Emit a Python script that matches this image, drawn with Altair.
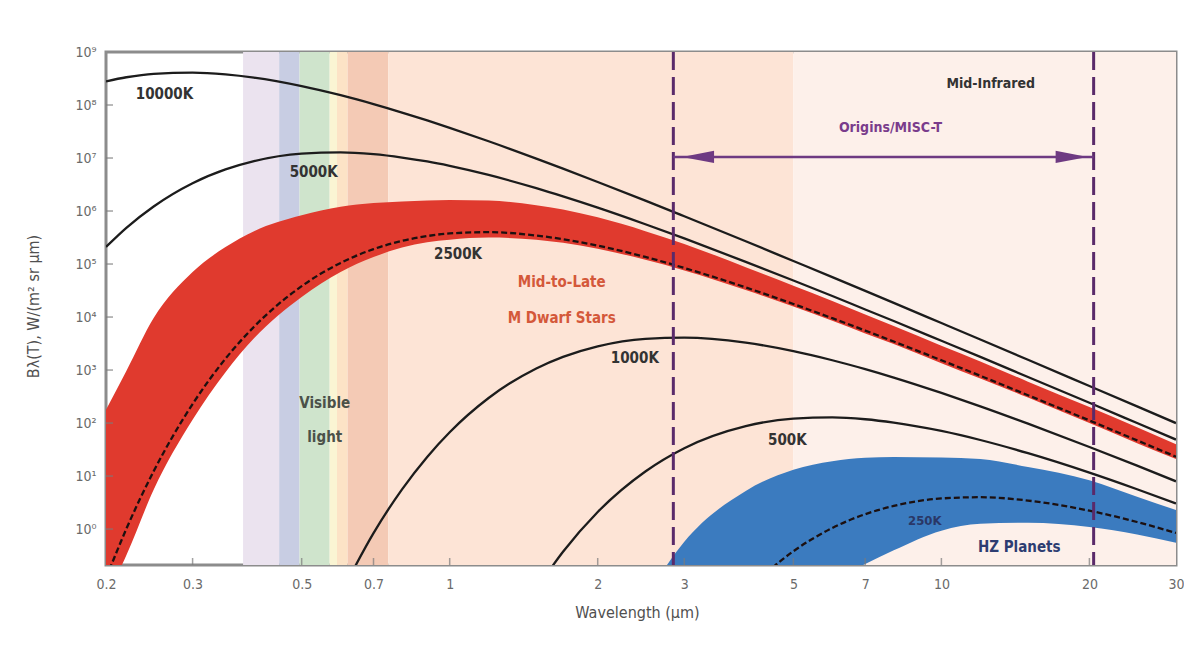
import altair as alt
import pandas as pd

# ---------------- data ----------------
wavelength = [0.2, 0.22, 0.25, 0.3, 0.35, 0.4, 0.5, 0.6, 0.7, 0.8, 0.9, 1.0, 1.2, 1.5, 1.7,
              2, 2.5, 3, 4, 5, 6, 7, 8, 10, 12, 15, 20, 25, 30]

b_10000K = [2.80e8, 3.34e8, 3.88e8, 4.08e8, 3.78e8, 3.28e8, 2.27e8, 1.53e8, 1.04e8, 7.21e7,
            5.11e7, 3.70e7, 2.07e7, 9.74e6, 6.30e6, 3.53e6, 1.57e6, 7.96e5, 2.69e5, 1.14e5,
            5.65e4, 3.11e4, 1.85e4, 7.70e3, 3.76e3, 1.56e3, 499, 206, 99.8]
b_5000K = [2.10e5, 4.82e5, 1.22e6, 3.35e6, 6.09e6, 8.74e6, 1.21e7, 1.28e7, 1.18e7, 1.02e7,
           8.60e6, 7.10e6, 4.79e6, 2.70e6, 1.89e6, 1.16e6, 5.64e5, 3.04e5, 1.10e5, 4.90e4,
           2.49e4, 1.39e4, 8.40e3, 3.57e3, 1.77e3, 741, 241, 100, 48.7]
b_2500K = [0.118, 1.01, 12.3, 228, 1.64e3, 6.56e3, 3.82e4, 1.05e5, 1.91e5, 2.73e5,
           3.37e5, 3.78e5, 3.99e5, 3.45e5, 2.94e5, 2.22e5, 1.36e5, 8.43e4, 3.62e4, 1.76e4,
           9.51e3, 5.56e3, 3.45e3, 1.53e3, 778, 335, 112, 47.1, 23.2]
b_1000K = [None, None, None, None, None, None, None, 0.059, 0.839, 5.62,
           23.0, 67.2, 297, 1.07e3, 1.77e3, 2.80e3, 3.88e3, 4.08e3, 3.28e3, 2.27e3,
           1.53e3, 1.04e3, 721, 370, 207, 97.4, 35.3, 15.7, 7.96]
b_500K = [None, None, None, None, None, None, None, None, None, None,
          None, None, None, 0.073, 0.373, 2.10, 12.2, 33.5, 87.4, 121,
          128, 118, 102, 71.0, 47.9, 27.0, 11.6, 5.64, 3.04]
b_250K = [None, None, None, None, None, None, None, None, None, None,
          None, None, None, None, None, None, None, None, 0.066, 0.382,
          1.05, 1.91, 2.73, 3.78, 3.99, 3.45, 2.22, 1.36, 0.843]

mdwarf_upper = [178, 955, 9.55e3, 7.08e4, 2.09e5, 4.17e5, 8.32e5, 1.20e6, 1.41e6, 1.51e6,
                1.58e6, 1.62e6, 1.58e6, 1.29e6, 1.07e6, 7.59e5, 4.17e5, 2.40e5, 8.71e4, 3.89e4,
                2.00e4, 1.12e4, 6.76e3, 2.88e3, 1.45e3, 603, 200, 83.2, 39.8]
mdwarf_lower = [0.05, 0.32, 5.5, 115, 912, 3.98e3, 2.40e4, 7.08e4, 1.35e5, 2.04e5,
                2.57e5, 2.88e5, 3.16e5, 2.88e5, 2.51e5, 1.95e5, 1.20e5, 7.59e4, 3.24e4, 1.58e4,
                8.51e3, 4.90e3, 3.09e3, 1.35e3, 692, 302, 100, 41.7, 20.9]

hz_wavelength = [2.5, 3, 4, 5, 6, 7, 8, 10, 12, 15, 20, 25, 30]
hz_upper = [0.05, 0.575, 5.25, 13.2, 19.1, 22.1, 22.9, 22.4, 20.9, 14.8, 8.32, 4.07, 2.29]
hz_lower = [0.001, 0.001, 0.003, 0.025, 0.11, 0.219, 0.398, 0.933, 1.26, 1.32, 1.10, 0.794, 0.55]

band_start = [0.38, 0.45, 0.495, 0.57, 0.59, 0.62, 0.75, 5]
band_end = [0.45, 0.495, 0.57, 0.59, 0.62, 0.75, 5, 30]
band_name = ["violet", "blue", "green", "yellow", "orange", "red", "near-IR", "mid-IR"]
band_color = ["#ebe3ef", "#c8cde3", "#cfe4cc", "#faf5d3", "#fce3c6", "#f4cab5", "#fde4d6", "#fdf0ea"]

misc_t_edges = [2.85, 20.4]
misc_t_level = 1.05e7
arrow_heads_lam = [3.2, 18.4]

x_ticks = [0.2, 0.3, 0.5, 0.7, 1, 2, 3, 5, 7, 10, 20, 30]
y_ticks = [1, 10, 100, 1e3, 1e4, 1e5, 1e6, 1e7, 1e8, 1e9]

ann_text = ["10000K", "5000K", "2500K", "1000K", "500K", "250K", "Mid-to-Late", "M Dwarf Stars",
            "Visible", "light", "HZ Planets", "Mid-Infrared", "Origins/MISC-T"]
ann_lam = [0.263, 0.529, 1.04, 2.38, 4.86, 9.25, 1.69, 1.69, 0.557, 0.557, 14.4, 12.6, 7.88]
ann_B = [1.6e8, 5.4e6, 1.55e5, 1.68e3, 47.7, 1.42, 4.57e4, 9.55e3, 238, 54.5, 0.457, 2.49e8, 3.68e7]
ann_color = ["#333333"] * 5 + ["#2a3766", "#d4583a", "#d4583a", "#4b5149", "#4b5149",
                               "#2d3d72", "#333333", "#7a3c8c"]
ann_size = [15, 15, 15, 15, 15, 13, 15, 15, 15, 15, 15, 14, 14]

# ---------------- tables ----------------
curves = [("10000K", b_10000K), ("5000K", b_5000K), ("2500K", b_2500K),
          ("1000K", b_1000K), ("500K", b_500K), ("250K", b_250K)]
rows = []
for name, vals in curves:
    for lam, v in zip(wavelength, vals):
        if v is not None:
            rows.append({"lam": lam, "B": v, "curve": name})
lines_df = pd.DataFrame(rows)
solid_df = lines_df[~lines_df["curve"].isin(["2500K", "250K"])]
dashed_df = lines_df[lines_df["curve"].isin(["2500K", "250K"])]

mdwarf_df = pd.DataFrame({"lam": wavelength, "B": mdwarf_upper, "B2": mdwarf_lower})
hz_df = pd.DataFrame({"lam": hz_wavelength, "B": hz_upper, "B2": hz_lower})
bands_df = pd.DataFrame({"lam": band_start, "lam_end": band_end, "name": band_name})
edges_df = pd.DataFrame({"lam": misc_t_edges})
arrow_df = pd.DataFrame({"lam": [misc_t_edges[0]], "lam_end": [misc_t_edges[1]], "B": [misc_t_level]})
heads_df = pd.DataFrame({"lam": arrow_heads_lam, "B": [misc_t_level] * 2,
                         "shp": ["M-1,0L1,-0.38L1,0.38Z", "M1,0L-1,-0.38L-1,0.38Z"]})
ann_df = pd.DataFrame({"lam": ann_lam, "B": ann_B, "txt": ann_text, "col": ann_color, "fs": ann_size})
xtick_df = pd.DataFrame({"lam": x_ticks[1:-1]})
ytick_df = pd.DataFrame({"B": y_ticks[:-1]})

# ---------------- encodings ----------------
W, H = 1070, 513
FONT = "DejaVu Sans Condensed"
xs = alt.Scale(type="log", domain=[0.2, 30], nice=False)
ys = alt.Scale(type="log", domain=[0.21, 1e9], nice=False)
sup = "['\u2070','\u00b9','\u00b2','\u00b3','\u2074','\u2075','\u2076','\u2077','\u2078','\u2079']"
xaxis = alt.Axis(values=x_ticks, format="~g", title="Wavelength (\u00b5m)", domain=False, ticks=False,
                 grid=False, labelFontSize=14, labelColor="#6a6a6a", labelPadding=12,
                 labelOverlap=False, labelFlush=False, titleFontSize=16, titleColor="#505050",
                 titleFontWeight="normal", titleX=531, titleY=47, titleBaseline="middle", zindex=1)
yaxis = alt.Axis(values=y_ticks, labelExpr="'10' + " + sup + "[round(log(datum.value)/LN10)]",
                 title="B\u03bb(T), W/(m\u00b2 sr \u00b5m)", domain=False, ticks=False, grid=False,
                 labelFontSize=14, labelColor="#6a6a6a", labelPadding=10, labelOverlap=False,
                 labelFlush=False, titleFontSize=16, titleColor="#505050", titleFontWeight="normal",
                 titleX=-73, titleY=254, titleAngle=270, titleAlign="center",
                 titleBaseline="middle", zindex=1)
X = alt.X("lam:Q", scale=xs, axis=xaxis)
Y = alt.Y("B:Q", scale=ys, axis=yaxis)

bands = alt.Chart(bands_df).mark_rect(clip=True).encode(
    x=X, x2="lam_end:Q", y=alt.value(0), y2=alt.value(H),
    color=alt.Color("name:N", scale=alt.Scale(domain=band_name, range=band_color), legend=None))

mdwarf = alt.Chart(mdwarf_df).mark_area(interpolate="monotone", clip=True, color="#e03a2e").encode(
    x=X, y=Y, y2="B2:Q")
hz = alt.Chart(hz_df).mark_area(interpolate="monotone", clip=True, color="#3b7bbf").encode(
    x=X, y=Y, y2="B2:Q")

solid = alt.Chart(solid_df).mark_line(interpolate="monotone", clip=True, strokeWidth=2.3,
                                      color="#1c1c1c").encode(x=X, y=Y, detail="curve:N")
dashed = alt.Chart(dashed_df).mark_line(interpolate="monotone", clip=True, strokeWidth=2.3,
                                        color="#1c1010", strokeDash=[6, 3]).encode(
    x=X, y=Y, detail="curve:N")

xticks = alt.Chart(xtick_df).mark_tick(color="#7a7a7a", thickness=1.5, size=7).encode(
    x=X, y=alt.value(H - 3.5))
yticks = alt.Chart(ytick_df).mark_tick(color="#7a7a7a", thickness=1.5, size=7).encode(
    y=Y, x=alt.value(3.5))

edges = alt.Chart(edges_df).mark_rule(color="#5a2a6a", strokeWidth=3, strokeDash=[18, 7]).encode(x=X)
arrow = alt.Chart(arrow_df).mark_rule(color="#6e3a82", strokeWidth=2.5).encode(
    x=X, x2="lam_end:Q", y=Y)
heads = alt.Chart(heads_df).mark_point(filled=True, opacity=1, size=1024, color="#6e3a82").encode(
    x=X, y=Y, shape=alt.Shape("shp:N", scale=None))

texts = alt.Chart(ann_df).mark_text(fontWeight="bold", align="center", baseline="middle",
                                    font=FONT).encode(
    x=X, y=Y, text="txt:N", color=alt.Color("col:N", scale=None),
    size=alt.Size("fs:Q", scale=None))

chart = alt.layer(bands, mdwarf, hz, solid, dashed, xticks, yticks, edges, arrow, heads,
                  texts).properties(
    width=W, height=H, autosize=alt.AutoSizeParams(type="none"),
    padding={"left": 98, "top": 44, "right": 8, "bottom": 70},
    background="white",
).configure(font=FONT).configure_view(stroke="#8c8c8c", strokeWidth=3, fill="white")

chart.save("out.html", embed_options={"renderer": "svg", "actions": False})
